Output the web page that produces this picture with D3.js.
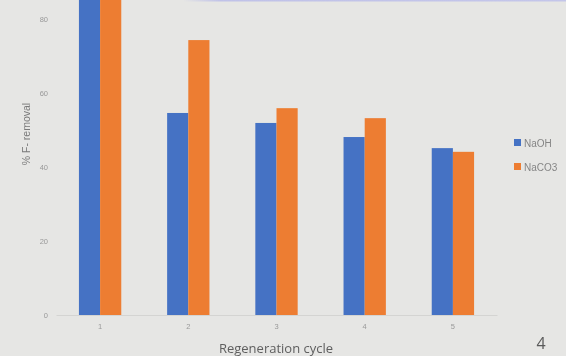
<!DOCTYPE html>
<html>
<head>
<meta charset="utf-8">
<script src="https://cdn.jsdelivr.net/npm/d3@7"></script>
<style>
  html, body { margin: 0; padding: 0; background: #e6e6e4; }
  svg { display: block; }
</style>
</head>
<body>
<svg id="chart" width="566" height="356"></svg>
<script>
// Fluoride removal over regeneration cycles
const cycles = ["1", "2", "3", "4", "5"];
const seriesNames = ["NaOH", "NaCO3"];
const naohValues = [95, 54.6, 51.9, 48.1, 45.1];
const naco3Values = [95, 74.3, 55.9, 53.2, 44.1];
const yTicks = [0, 20, 40, 60, 80];
const colors = ["#4472C4", "#ED7D31"];

const svg = d3.select("#chart");
const W = 566, H = 356;

svg.append("rect").attr("width", W).attr("height", H).attr("fill", "#e6e6e4");

// thin accent line along the top edge
const grad = svg.append("defs").append("linearGradient").attr("id", "topline")
  .attr("x1", "0%").attr("x2", "100%");
grad.append("stop").attr("offset", "0%").attr("stop-color", "#e6e6e4");
grad.append("stop").attr("offset", "10%").attr("stop-color", "#c0c2e8");
grad.append("stop").attr("offset", "100%").attr("stop-color", "#c4c6ea");
svg.append("rect").attr("x", 183).attr("y", 0).attr("width", 383).attr("height", 1.5)
  .attr("fill", "url(#topline)");

const soft = svg.append("defs").append("filter").attr("id", "soft");
soft.append("feGaussianBlur").attr("stdDeviation", 0.35);

const plot = { left: 56, right: 497, baseline: 315 };

const x = d3.scaleBand().domain(cycles).range([plot.left, plot.right]).paddingInner(0.52).paddingOuter(0.26);
const xs = d3.scaleBand().domain(seriesNames).range([0, x.bandwidth()]);
const y = d3.scaleLinear().domain([0, 80]).range([plot.baseline, 19]);

const g = svg.append("g").attr("filter", "url(#soft)");

// bars
const data = cycles.map((c, i) => ({ cycle: c, values: [naohValues[i], naco3Values[i]] }));
const groups = g.selectAll("g.cycle").data(data).join("g")
  .attr("class", "cycle")
  .attr("transform", d => `translate(${x(d.cycle)},0)`);
groups.selectAll("rect").data(d => d.values.map((v, k) => ({ name: seriesNames[k], v, k })))
  .join("rect")
  .attr("x", d => xs(d.name))
  .attr("width", xs.bandwidth())
  .attr("y", d => y(d.v))
  .attr("height", d => y(0) - y(d.v))
  .attr("fill", d => colors[d.k]);

// category axis
const xAxis = g.append("g").attr("transform", `translate(0,${plot.baseline})`)
  .call(d3.axisBottom(x).tickSize(0).tickPadding(9));
xAxis.select(".domain").attr("stroke", "#d4d4d2").attr("stroke-width", 1);
xAxis.selectAll("text").attr("fill", "#999").attr("font-size", 7.5)
  .attr("font-family", "'Liberation Sans', sans-serif");

// value axis (labels only)
const yAxis = g.append("g").attr("transform", `translate(${plot.left - 8},0)`)
  .call(d3.axisLeft(y).tickValues(yTicks).tickSize(0).tickPadding(0));
yAxis.select(".domain").remove();
yAxis.selectAll("text").attr("fill", "#999").attr("font-size", 7.5)
  .attr("font-family", "'Liberation Sans', sans-serif");

// axis titles
g.append("text").attr("transform", `translate(30,134) rotate(-90)`)
  .attr("text-anchor", "middle").attr("fill", "#7a7a7a").attr("font-size", 10.5)
  .attr("font-family", "'Liberation Sans', sans-serif")
  .text("% F- removal");
g.append("text").attr("x", 276).attr("y", 353)
  .attr("text-anchor", "middle").attr("fill", "#5e5e5e").attr("font-size", 13)
  .attr("font-family", "'Open Sans', 'Liberation Sans', sans-serif")
  .text("Regeneration cycle");

// legend
const legend = g.append("g").attr("transform", "translate(514,139)");
seriesNames.forEach((name, i) => {
  const row = legend.append("g").attr("transform", `translate(0,${i * 24})`);
  row.append("rect").attr("width", 7).attr("height", 7).attr("fill", colors[i]);
  row.append("text").attr("x", 10).attr("y", 7.5).attr("fill", "#858585").attr("font-size", 10)
    .attr("font-family", "'Liberation Sans', sans-serif").text(name);
});

// slide number
svg.append("text").attr("x", 541).attr("y", 349).attr("text-anchor", "middle")
  .attr("fill", "#5a5a5a").attr("font-size", 16)
  .attr("font-family", "'Open Sans', 'Liberation Sans', sans-serif").text("4");
</script>
</body>
</html>
